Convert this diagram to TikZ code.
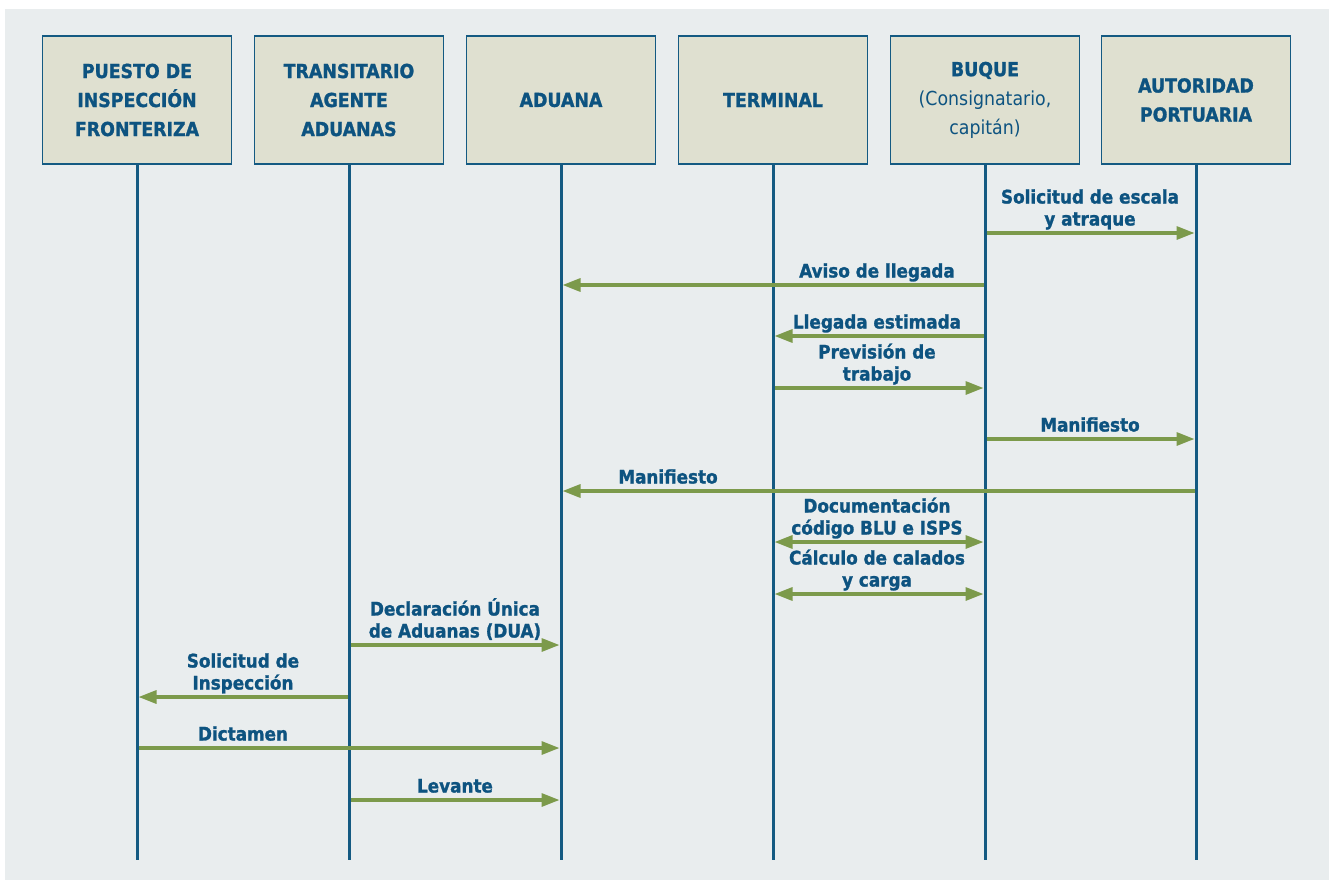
\documentclass[tikz,border=0pt]{standalone}
\usepackage{fontspec}
\setmainfont{DejaVu Sans Condensed}[BoldFeatures={FakeBold=1.3}]
\usetikzlibrary{arrows.meta}
\definecolor{bgcol}{HTML}{E9EDEE}
\definecolor{boxfill}{HTML}{DFE0D0}
\definecolor{lanecol}{HTML}{145A82}
\definecolor{txtcol}{HTML}{0D5380}
\definecolor{msgcol}{HTML}{7C9A4B}
\begin{document}
\begin{tikzpicture}[x=1pt,y=-1pt,
  actor/.style={draw=lanecol,line width=1.8pt,fill=boxfill,minimum width=189pt,minimum height=128pt,
    inner sep=0pt,align=center,text=txtcol,font=\fontsize{19.3}{29}\selectfont\bfseries},
  lane/.style={draw=lanecol,line width=3pt},
  msg/.style={draw=msgcol,line width=3.2pt,-{Triangle[length=18pt,width=13pt]},shorten >=1.5pt,shorten <=1.5pt},
  dmsg/.style={draw=msgcol,line width=3.2pt,{Triangle[length=18pt,width=13pt]}-{Triangle[length=18pt,width=13pt]},shorten >=1.5pt,shorten <=1.5pt},
  lbl/.style={anchor=base,inner sep=0pt,align=center,text=txtcol,font=\fontsize{18.7}{22}\selectfont\bfseries}]
\useasboundingbox (0,0) rectangle (1333,880);
\fill[white] (0,0) rectangle (1333,880);
\fill[bgcol] (5,9) rectangle (1329,880);

% lifelines
\foreach \x in {137,349,561,773,985,1196}
  \draw[lane] (\x,164) -- (\x,860);

% participants
\node[actor] (h1) at (137,100) {PUESTO DE\\INSPECCIÓN\\FRONTERIZA};
\node[actor] (h2) at (349,100) {TRANSITARIO\\AGENTE\\ADUANAS};
\node[actor] (h3) at (561,100) {ADUANA};
\node[actor] (h4) at (773,100) {TERMINAL};
\node[actor] (h5) at (985,100) {BUQUE\\{\mdseries(Consignatario,}\\{\mdseries capitán)}};
\node[actor] (h6) at (1196,100) {AUTORIDAD\\PORTUARIA};

% messages
\draw[msg] (h5 |- 0,233) -- (h6 |- 0,233);
\node[lbl] (m1) at (1090,225.5) {Solicitud de escala\\y atraque};

\draw[msg] (h5 |- 0,285) -- (h3 |- 0,285);
\node[lbl] (m2) at (877,277.5) {Aviso de llegada};

\draw[msg] (h5 |- 0,336) -- (h4 |- 0,336);
\node[lbl] (m3) at (877,328.5) {Llegada estimada};

\draw[msg] (h4 |- 0,388) -- (h5 |- 0,388);
\node[lbl] (m4) at (877,380.5) {Previsión de\\trabajo};

\draw[msg] (h5 |- 0,439) -- (h6 |- 0,439);
\node[lbl] (m5) at (1090,431.5) {Manifiesto};

\draw[msg] (h6 |- 0,491) -- (h3 |- 0,491);
\node[lbl] (m6) at (668,483.5) {Manifiesto};

\draw[dmsg] (h4 |- 0,542) -- (h5 |- 0,542);
\node[lbl] (m7) at (877,534.5) {Documentación\\código BLU e ISPS};

\draw[dmsg] (h4 |- 0,594) -- (h5 |- 0,594);
\node[lbl] (m8) at (877,586.5) {Cálculo de calados\\y carga};

\draw[msg] (h2 |- 0,645) -- (h3 |- 0,645);
\node[lbl] (m9) at (455,637.5) {Declaración Única\\de Aduanas (DUA)};

\draw[msg] (h2 |- 0,697) -- (h1 |- 0,697);
\node[lbl] (m10) at (243,689.5) {Solicitud de\\Inspección};

\draw[msg] (h1 |- 0,748) -- (h3 |- 0,748);
\node[lbl] (m11) at (243,740.5) {Dictamen};

\draw[msg] (h2 |- 0,800) -- (h3 |- 0,800);
\node[lbl] (m12) at (455,792.5) {Levante};
\end{tikzpicture}
\end{document}
